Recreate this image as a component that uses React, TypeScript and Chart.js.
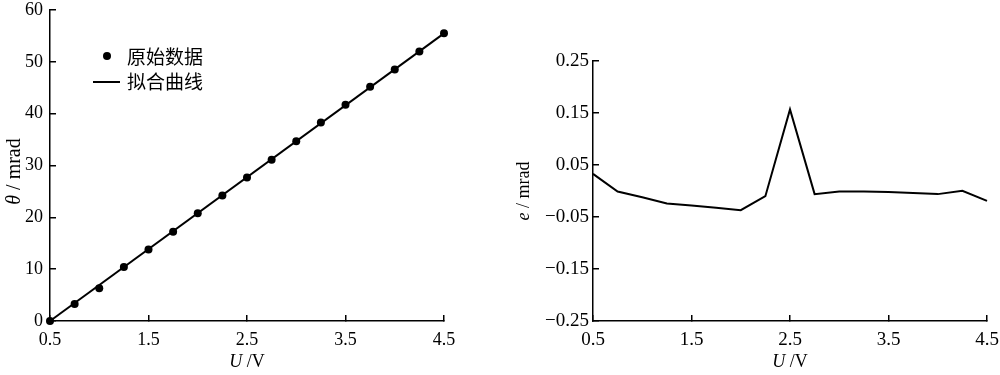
import React, { useEffect, useRef } from "react";
import { Chart, registerables } from "chart.js";

Chart.register(...registerables);

// ---------- data ----------
const uValues = [0.5, 0.75, 1.0, 1.25, 1.5, 1.75, 2.0, 2.25, 2.5, 2.75, 3.0, 3.25, 3.5, 3.75, 4.0, 4.25, 4.5];
const thetaValues = [0.0, 3.3, 6.3, 10.4, 13.8, 17.2, 20.8, 24.2, 27.7, 31.1, 34.7, 38.3, 41.7, 45.2, 48.5, 52.0, 55.5];
const fitU = [0.5, 4.5];
const fitTheta = [0.0, 55.5];
const errorValues = [0.033, -0.001, -0.012, -0.024, -0.028, -0.032, -0.037, -0.010, 0.157, -0.006, -0.001, -0.001, -0.002, -0.004, -0.006, 0.0005, -0.019];

const xTickValues = [0.5, 1.5, 2.5, 3.5, 4.5];
const thetaTickValues = [0, 10, 20, 30, 40, 50, 60];
const errorTickValues = [-0.25, -0.15, -0.05, 0.05, 0.15, 0.25];

const seriesLabels = ["原始数据", "拟合曲线"];

const SERIF = "'Liberation Serif', 'Times New Roman', serif";
const CJK = "'Noto Sans CJK SC', 'Noto Sans', sans-serif";

type Part = { text: string; italic?: boolean };

function drawMixed(ctx: CanvasRenderingContext2D, parts: Part[], cx: number, cy: number, rotated: boolean, size: number) {
  ctx.save();
  ctx.translate(cx, cy);
  if (rotated) ctx.rotate(-Math.PI / 2);
  ctx.textBaseline = "middle";
  ctx.textAlign = "left";
  ctx.fillStyle = "#000";
  const fontOf = (p: Part) => `${p.italic ? "italic " : ""}${size}px ${SERIF}`;
  let total = 0;
  const widths = parts.map((p) => {
    ctx.font = fontOf(p);
    const w = ctx.measureText(p.text).width;
    total += w;
    return w;
  });
  let x = -total / 2;
  parts.forEach((p, i) => {
    ctx.font = fontOf(p);
    ctx.fillText(p.text, x, 0);
    x += widths[i];
  });
  ctx.restore();
}

function titlePlugin(yParts: Part[], yTitleX: number, yOffset: number, ySize: number, xParts: Part[], xTitleY: number) {
  return {
    id: "mixedTitles",
    afterDraw(chart: any) {
      const ctx = chart.ctx as CanvasRenderingContext2D;
      const a = chart.chartArea;
      drawMixed(ctx, yParts, yTitleX, (a.top + a.bottom) / 2 + yOffset, true, ySize);
      drawMixed(ctx, xParts, (a.left + a.right) / 2, xTitleY, false, 18);
    },
  };
}

const legendPlugin = {
  id: "insideLegend",
  afterDraw(chart: any) {
    const ctx = chart.ctx as CanvasRenderingContext2D;
    const a = chart.chartArea;
    const ds = chart.data.datasets;
    ctx.save();
    ctx.fillStyle = "#000";
    ctx.strokeStyle = "#000";
    ctx.beginPath();
    ctx.arc(a.left + 57, a.top + 46, 4, 0, Math.PI * 2);
    ctx.fill();
    ctx.lineWidth = 2;
    ctx.beginPath();
    ctx.moveTo(a.left + 43, a.top + 72);
    ctx.lineTo(a.left + 70, a.top + 72);
    ctx.stroke();
    ctx.font = `19px ${CJK}`;
    ctx.textBaseline = "middle";
    ctx.textAlign = "left";
    ctx.fillText(ds[0].label, a.left + 77, a.top + 47);
    ctx.fillText(ds[1].label, a.left + 77, a.top + 72);
    ctx.restore();
  },
};

function xScale(size: number): any {
  return {
    type: "linear",
    min: 0.5,
    max: 4.5,
    afterBuildTicks: (s: any) => {
      s.ticks = xTickValues.map((v) => ({ value: v }));
    },
    afterFit: (s: any) => {
      s.height = 54;
      s.paddingLeft = 0;
      s.paddingRight = 0;
    },
    grid: { drawOnChartArea: false, color: "#000", lineWidth: 1.5, tickLength: -6 },
    border: { color: "#000", width: 1.5 },
    ticks: {
      color: "#000",
      font: { family: SERIF, size },
      padding: 14,
      autoSkip: false,
      maxRotation: 0,
      callback: (v: any) => Number(v).toFixed(1),
    },
  };
}

function yScale(min: number, max: number, values: number[], width: number, pad: number, size: number, fmt: (v: number) => string): any {
  return {
    type: "linear",
    min,
    max,
    afterBuildTicks: (s: any) => {
      s.ticks = values.map((v) => ({ value: v }));
    },
    afterFit: (s: any) => {
      s.width = width;
      s.paddingTop = 0;
      s.paddingBottom = 0;
    },
    grid: { drawOnChartArea: false, color: "#000", lineWidth: 1.5, tickLength: -6 },
    border: { color: "#000", width: 1.5 },
    ticks: {
      color: "#000",
      font: { family: SERIF, size },
      padding: pad,
      autoSkip: false,
      callback: (v: any) => fmt(Number(v)),
    },
  };
}

function ThetaChart() {
  const ref = useRef<HTMLCanvasElement>(null);
  useEffect(() => {
    const chart = new Chart(ref.current as HTMLCanvasElement, {
      type: "scatter",
      data: {
        datasets: [
          {
            label: seriesLabels[0],
            data: uValues.map((u, i) => ({ x: u, y: thetaValues[i] })),
            showLine: false,
            pointRadius: 4,
            pointBackgroundColor: "#000",
            pointBorderColor: "#000",
            pointBorderWidth: 0,
            clip: false as any,
          },
          {
            label: seriesLabels[1],
            data: fitU.map((u, i) => ({ x: u, y: fitTheta[i] })),
            showLine: true,
            pointRadius: 0,
            borderColor: "#000",
            borderWidth: 2,
            clip: false as any,
          },
        ],
      },
      options: {
        animation: false,
        responsive: false,
        layout: { padding: { left: 0, top: 10, right: 56, bottom: 0 } },
        plugins: { legend: { display: false }, tooltip: { enabled: false } },
        scales: {
          x: xScale(18),
          y: yScale(0, 60, thetaTickValues, 50, 13, 18, (v) => String(Math.round(v))),
        },
      },
      plugins: [
        titlePlugin([{ text: "θ", italic: true }, { text: " / mrad" }], 15, 6, 20, [{ text: "U", italic: true }, { text: " /V" }], 362),
        legendPlugin,
      ],
    });
    return () => chart.destroy();
  }, []);
  return <canvas ref={ref} width={500} height={375} style={{ display: "block", width: 500, height: 375 }} />;
}

function ErrorChart() {
  const ref = useRef<HTMLCanvasElement>(null);
  useEffect(() => {
    const chart = new Chart(ref.current as HTMLCanvasElement, {
      type: "scatter",
      data: {
        datasets: [
          {
            label: "e",
            data: uValues.map((u, i) => ({ x: u, y: errorValues[i] })),
            showLine: true,
            pointRadius: 0,
            borderColor: "#000",
            borderWidth: 2,
            clip: false as any,
          },
        ],
      },
      options: {
        animation: false,
        responsive: false,
        layout: { padding: { left: 0, top: 61, right: 13, bottom: 0 } },
        plugins: { legend: { display: false }, tooltip: { enabled: false } },
        scales: {
          x: xScale(19),
          y: yScale(-0.25, 0.25, errorTickValues, 93, 10, 19, (v) => (v < 0 ? "\u2212" + Math.abs(v).toFixed(2) : v.toFixed(2))),
        },
      },
      plugins: [titlePlugin([{ text: "e", italic: true }, { text: " / mrad" }], 24, 0, 18, [{ text: "U", italic: true }, { text: " /V" }], 362)],
    });
    return () => chart.destroy();
  }, []);
  return <canvas ref={ref} width={500} height={375} style={{ display: "block", width: 500, height: 375 }} />;
}

export default function App() {
  return (
    <div style={{ position: "absolute", left: 0, top: 0, width: 1000, height: 375, display: "flex", background: "#fff" }}>
      <ThetaChart />
      <ErrorChart />
    </div>
  );
}
